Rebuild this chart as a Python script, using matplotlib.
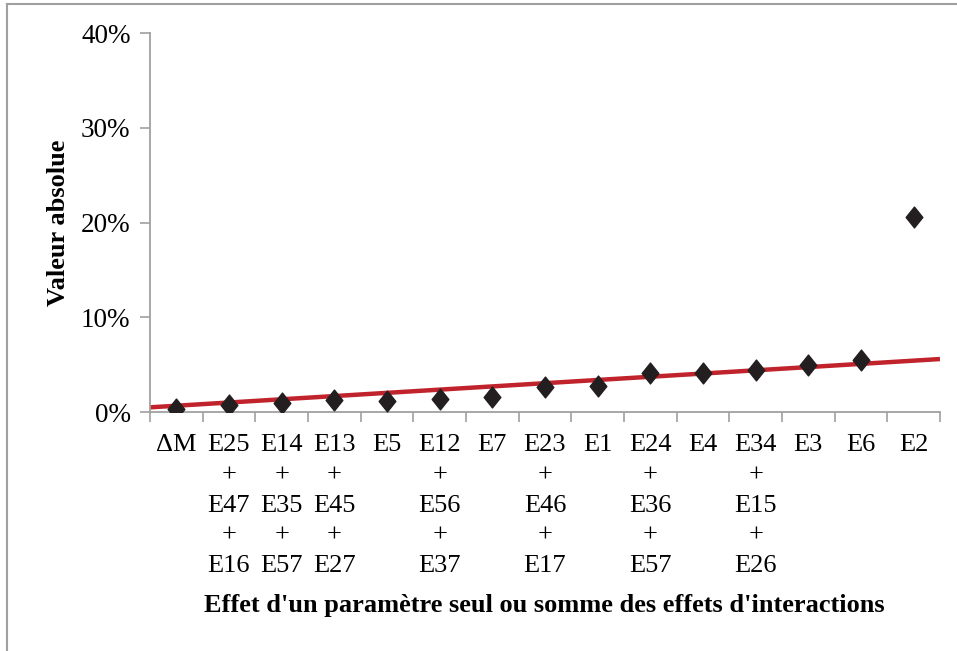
import matplotlib.pyplot as plt
from matplotlib.lines import Line2D
from matplotlib.path import Path
from matplotlib.ticker import FixedLocator, PercentFormatter

plt.rcParams['font.family'] = ['Liberation Serif', 'DejaVu Serif']

# category labels (multi-line ones are sums of interaction effects)
categories = [
    "\u0394M",
    "E25\n+\nE47\n+\nE16",
    "E14\n+\nE35\n+\nE57",
    "E13\n+\nE45\n+\nE27",
    "E5",
    "E12\n+\nE56\n+\nE37",
    "E7",
    "E23\n+\nE46\n+\nE17",
    "E1",
    "E24\n+\nE36\n+\nE57",
    "E4",
    "E34\n+\nE15\n+\nE26",
    "E3",
    "E6",
    "E2",
]
values = [0.3, 0.8, 1.0, 1.3, 1.2, 1.4, 1.6, 2.6, 2.8, 4.1, 4.1, 4.4, 5.0, 5.5, 20.6]

# trend line end points (left edge / right edge of the axis)
trend_x = [0.5, 15.5]
trend_y = [0.5, 5.6]

y_ticks = [0, 10, 20, 30, 40]

# slightly taller than wide diamond, like the original marker
diamond = Path([(0, 1), (0.8, 0), (0, -1), (-0.8, 0), (0, 1)],
               [Path.MOVETO, Path.LINETO, Path.LINETO, Path.LINETO, Path.CLOSEPOLY])

fig = plt.figure(figsize=(9.57, 6.51), dpi=100)
ax = fig.add_axes([0.1567, 0.367, 0.8255, 0.582])

x = list(range(1, len(categories) + 1))
ax.plot(trend_x, trend_y, color='#C0232B', linewidth=3.2, zorder=2, solid_capstyle='butt')
ax.plot(x, values, linestyle='none', marker=diamond, markersize=15,
        color='#231F20', zorder=3)

ax.set_xlim(0.5, 15.5)
ax.set_ylim(0, 40)

ax.set_xticks(x)
ax.set_xticklabels(categories, fontsize=19, linespacing=1.48, va='top')
ax.xaxis.set_minor_locator(FixedLocator([i + 0.5 for i in range(0, 16)]))
ax.tick_params(axis='x', which='major', length=0, pad=16)
ax.tick_params(axis='x', which='minor', length=7, width=1.2, color='#A0A0A0', direction='out')

ax.set_yticks(y_ticks)
ax.yaxis.set_major_formatter(PercentFormatter(decimals=0))
ax.tick_params(axis='y', length=7, width=1.2, color='#A0A0A0', labelsize=19.5, pad=7)

for side in ['top', 'right']:
    ax.spines[side].set_visible(False)
for side in ['left', 'bottom']:
    ax.spines[side].set_color('#A0A0A0')
    ax.spines[side].set_linewidth(1.3)

ax.set_ylabel('Valeur absolue', fontsize=19, fontweight='bold', labelpad=8)
fig.text(0.569, 0.07, "Effet d'un paramètre seul ou somme des effets d'interactions",
         fontsize=19, fontweight='bold', ha='center', va='center')

# outer frame (top and left edges only are visible)
fig.add_artist(Line2D([0.0073, 1.0], [0.9939, 0.9939], color='#A0A0A0', linewidth=1.5,
                      transform=fig.transFigure))
fig.add_artist(Line2D([0.0073, 0.0073], [0.0, 0.9939], color='#A0A0A0', linewidth=1.5,
                      transform=fig.transFigure))

fig.savefig('out.png', dpi=100)
